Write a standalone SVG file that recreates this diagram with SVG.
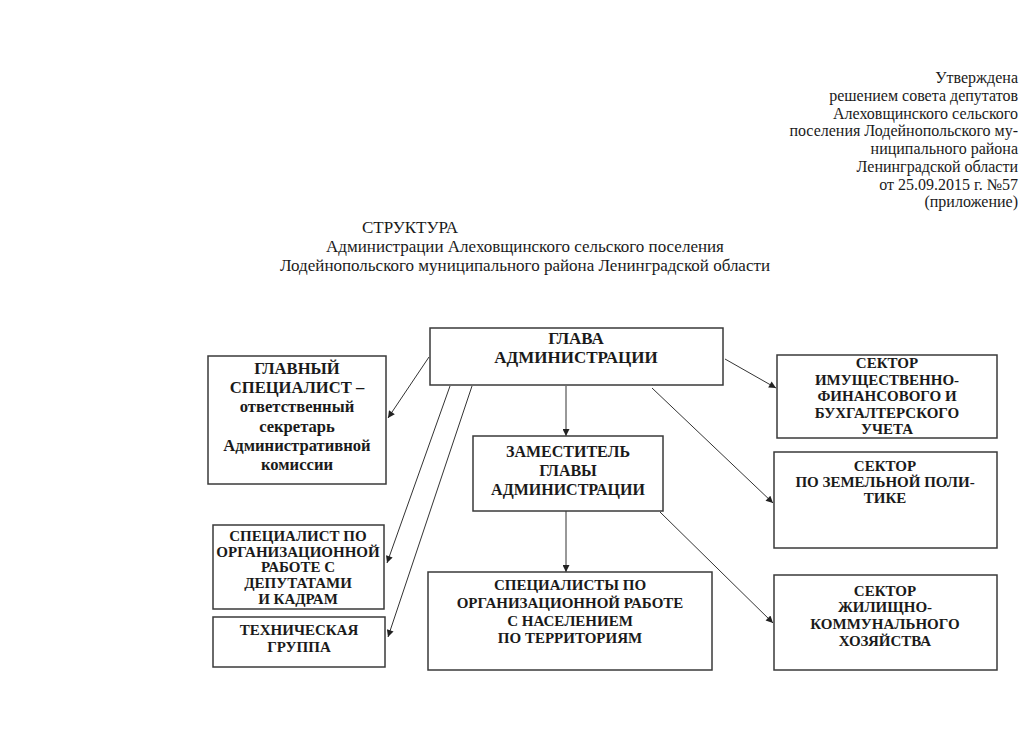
<svg xmlns="http://www.w3.org/2000/svg" width="1023" height="744" viewBox="0 0 1023 744">
<style>
.hdr{font-family:"Liberation Serif","Times New Roman",serif;font-size:16px;fill:#1a1a1a}
.ttl{font-family:"Liberation Serif","Times New Roman",serif;font-size:17px;fill:#1a1a1a;text-anchor:middle}
.box{fill:#ffffff;stroke:#3a3a3a;stroke-width:1.5}
.t{font-family:"Liberation Serif","Times New Roman",serif;font-weight:bold;font-size:15px;fill:#1a1a1a;text-anchor:middle}
.tb{font-size:17px}
.tm{font-size:16px}
.tg{font-size:16.6px}
.c{stroke:#333;stroke-width:1;fill:none;marker-end:url(#ah)}
</style>
<defs>
<marker id="ah" viewBox="0 0 10 10" refX="10" refY="5" markerWidth="9" markerHeight="7" markerUnits="userSpaceOnUse" orient="auto">
<path d="M0,0 L10,5 L0,10 z" fill="#222"/>
</marker>
</defs>
<rect width="1023" height="744" fill="#ffffff"/>
<g id="header" class="hdr" text-anchor="end">
<text x="1018" y="83">Утверждена</text>
<text x="1018" y="101">решением совета депутатов</text>
<text x="1018" y="119">Алеховщинского сельского</text>
<text x="1018" y="136">поселения Лодейнопольского му-</text>
<text x="1018" y="154">ниципального района</text>
<text x="1018" y="172">Ленинградской области</text>
<text x="1018" y="190">от 25.09.2015 г. №57</text>
<text x="1018" y="207">(приложение)</text>
</g>
<g id="title">
<text class="ttl" x="410" y="233">СТРУКТУРА</text>
<text class="ttl" x="525" y="252">Администрации Алеховщинского сельского поселения</text>
<text class="ttl" x="525" y="271">Лодейнопольского муниципального района Ленинградской области</text>
</g>
<g id="connectors">
<line class="c" x1="429" y1="357" x2="388" y2="418"/>
<line class="c" x1="450" y1="386" x2="387" y2="563"/>
<line class="c" x1="472" y1="386" x2="388" y2="637"/>
<line class="c" x1="566" y1="386" x2="566" y2="436"/>
<line class="c" x1="725" y1="359" x2="776" y2="388"/>
<line class="c" x1="652" y1="388" x2="773" y2="503"/>
<line class="c" x1="566" y1="511" x2="566" y2="572"/>
<line class="c" x1="660" y1="512" x2="773" y2="623"/>
</g>
<g id="glava">
<rect class="box" x="430" y="328" width="293" height="57"/>
<text class="t tb" x="576" y="344">ГЛАВА</text>
<text class="t tb" x="576" y="363">АДМИНИСТРАЦИИ</text>
</g>
<g id="glavny-specialist">
<rect class="box" x="208" y="356" width="178" height="128"/>
<text class="t tg" x="297" y="374">ГЛАВНЫЙ</text>
<text class="t tg" x="297" y="393">СПЕЦИАЛИСТ –</text>
<text class="t tg" x="297" y="412">ответственный</text>
<text class="t tg" x="297" y="432">секретарь</text>
<text class="t tg" x="297" y="451">Административной</text>
<text class="t tg" x="297" y="470">комиссии</text>
</g>
<g id="zamestitel">
<rect class="box" x="473" y="436" width="190" height="75"/>
<text class="t tm" x="568" y="457">ЗАМЕСТИТЕЛЬ</text>
<text class="t tm" x="568" y="476">ГЛАВЫ</text>
<text class="t tm" x="568" y="495">АДМИНИСТРАЦИИ</text>
</g>
<g id="sektor-imush">
<rect class="box" x="777" y="355" width="220" height="83"/>
<text class="t" x="887" y="368">СЕКТОР</text>
<text class="t" x="887" y="385">ИМУЩЕСТВЕННО-</text>
<text class="t" x="887" y="401">ФИНАНСОВОГО И</text>
<text class="t" x="887" y="418">БУХГАЛТЕРСКОГО</text>
<text class="t" x="887" y="434">УЧЕТА</text>
</g>
<g id="sektor-zemel">
<rect class="box" x="774" y="452" width="223" height="96"/>
<text class="t" x="885" y="471">СЕКТОР</text>
<text class="t" x="885" y="487">ПО ЗЕМЕЛЬНОЙ ПОЛИ-</text>
<text class="t" x="885" y="503">ТИКЕ</text>
</g>
<g id="specialist-org">
<rect class="box" x="213" y="525" width="171" height="84"/>
<text class="t" x="298" y="541">СПЕЦИАЛИСТ ПО</text>
<text class="t" x="298" y="557">ОРГАНИЗАЦИОННОЙ</text>
<text class="t" x="298" y="572">РАБОТЕ С</text>
<text class="t" x="298" y="588">ДЕПУТАТАМИ</text>
<text class="t" x="298" y="604">И КАДРАМ</text>
</g>
<g id="tech-group">
<rect class="box" x="213" y="617" width="172" height="50"/>
<text class="t" x="299" y="635">ТЕХНИЧЕСКАЯ</text>
<text class="t" x="299" y="652">ГРУППА</text>
</g>
<g id="specialisty-naselenie">
<rect class="box" x="428" y="572" width="284" height="98"/>
<text class="t" x="570" y="590">СПЕЦИАЛИСТЫ ПО</text>
<text class="t" x="570" y="608">ОРГАНИЗАЦИОННОЙ РАБОТЕ</text>
<text class="t" x="570" y="626">С НАСЕЛЕНИЕМ</text>
<text class="t" x="570" y="643">ПО ТЕРРИТОРИЯМ</text>
</g>
<g id="sektor-zhkh">
<rect class="box" x="774" y="575" width="223" height="95"/>
<text class="t" x="885" y="596">СЕКТОР</text>
<text class="t" x="885" y="612">ЖИЛИЩНО-</text>
<text class="t" x="885" y="629">КОММУНАЛЬНОГО</text>
<text class="t" x="885" y="646">ХОЗЯЙСТВА</text>
</g>
</svg>
